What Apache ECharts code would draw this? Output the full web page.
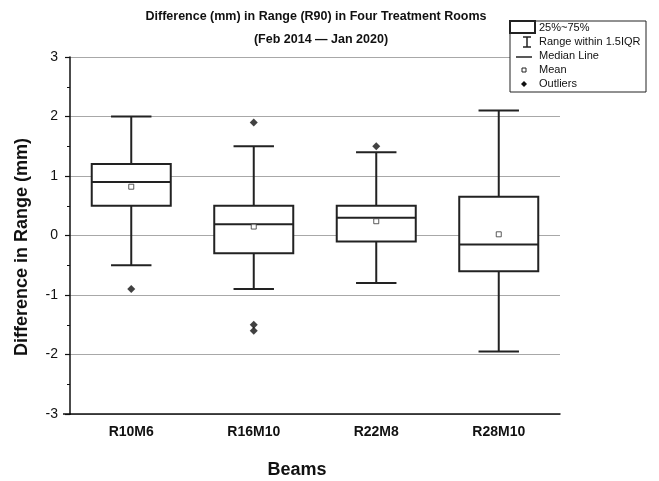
<!DOCTYPE html>
<html><head><meta charset="utf-8">
<script src="https://cdn.jsdelivr.net/npm/echarts@6/dist/echarts.min.js"></script>
<style>html,body{margin:0;padding:0;background:#fff;overflow:hidden}#c{width:659px;height:481px}</style>
</head><body><div id="c"></div>
<script>
const categories = ['R10M6', 'R16M10', 'R22M8', 'R28M10'];
// [lower whisker, Q1, median, Q3, upper whisker]
const boxStats = [
  [-0.5, 0.5, 0.9, 1.2, 2.0],
  [-0.9, -0.3, 0.19, 0.5, 1.5],
  [-0.8, -0.1, 0.3, 0.5, 1.4],
  [-1.95, -0.6, -0.15, 0.65, 2.1]
];
const means = [0.82, 0.15, 0.24, 0.02];
const outliers = [
  ['R10M6', -0.9],
  ['R16M10', 1.9],
  ['R16M10', -1.5],
  ['R16M10', -1.6],
  ['R22M8', 1.5]
];
const yTicks = [-3, -2, -1, 0, 1, 2, 3];

const chart = echarts.init(document.getElementById('c'), null, {renderer: 'canvas'});
const FONT = 'Liberation Sans, Arial, sans-serif';
const boxData = boxStats.map((s, i) => [i].concat(s));

function renderBox(params, api) {
  const i = api.value(0);
  const lo = api.coord([i, api.value(1)]);
  const q1 = api.coord([i, api.value(2)]);
  const md = api.coord([i, api.value(3)]);
  const q3 = api.coord([i, api.value(4)]);
  const hi = api.coord([i, api.value(5)]);
  const band = api.size([1, 0])[0];
  const bw = band * 0.645, cw = band * 0.33;
  const x = lo[0];
  const st = {stroke: '#222', lineWidth: 2, fill: null};
  return {
    type: 'group',
    children: [
      {type: 'line', shape: {x1: x, y1: hi[1], x2: x, y2: q3[1]}, style: st},
      {type: 'line', shape: {x1: x, y1: q1[1], x2: x, y2: lo[1]}, style: st},
      {type: 'line', shape: {x1: x - cw / 2, y1: hi[1], x2: x + cw / 2, y2: hi[1]}, style: st},
      {type: 'line', shape: {x1: x - cw / 2, y1: lo[1], x2: x + cw / 2, y2: lo[1]}, style: st},
      {type: 'rect', shape: {x: x - bw / 2, y: q3[1], width: bw, height: q1[1] - q3[1]}, style: {stroke: '#222', lineWidth: 2, fill: '#fff'}},
      {type: 'line', shape: {x1: x - bw / 2, y1: md[1], x2: x + bw / 2, y2: md[1]}, style: st}
    ]
  };
}

const option = {
  backgroundColor: '#fff',
  animation: false,
  grid: {left: 70, right: 99, top: 57, bottom: 67},
  xAxis: {
    type: 'category', data: categories,
    axisLine: {onZero: false, lineStyle: {color: '#111', width: 1.5}},
    axisTick: {alignWithLabel: true, length: 5, lineStyle: {color: '#111', width: 1.2}},
    axisLabel: {fontFamily: FONT, fontSize: 14, fontWeight: 'bold', color: '#111', margin: 11},
    splitLine: {show: false}
  },
  yAxis: {
    type: 'value', min: -3, max: 3, interval: 1,
    axisLine: {show: true, lineStyle: {color: '#111', width: 1.5}},
    axisTick: {show: true, length: 5, lineStyle: {color: '#111', width: 1.2}},
    minorTick: {show: true, splitNumber: 2, length: 3, lineStyle: {color: '#111', width: 1}},
    axisLabel: {fontFamily: FONT, fontSize: 14, color: '#111', margin: 12,
      formatter: v => yTicks.includes(v) ? String(v) : ''},
    splitLine: {show: true, lineStyle: {color: '#a8a8a8', width: 1.2}}
  },
  title: [
    {text: 'Difference (mm) in Range (R90) in Four Treatment Rooms', left: 311, top: 5, textAlign: 'center',
      textStyle: {fontFamily: FONT, fontSize: 12.5, fontWeight: 'bold', color: '#111'}},
    {text: '(Feb 2014 \u2014 Jan 2020)', left: 316, top: 28, textAlign: 'center',
      textStyle: {fontFamily: FONT, fontSize: 12.5, fontWeight: 'bold', color: '#111'}}
  ],
  graphic: [
    {type: 'line', shape: {x1: 63, y1: 414, x2: 71, y2: 414}, style: {stroke: '#111', lineWidth: 1.5}, z: 5},
    {type: 'text', x: 22, y: 247, rotation: Math.PI / 2, style: {text: 'Difference in Range (mm)', font: 'bold 18px ' + FONT, fill: '#111', align: 'center', verticalAlign: 'middle'}},
    {type: 'text', x: 297, y: 470, style: {text: 'Beams', font: 'bold 18px ' + FONT, fill: '#111', align: 'center', verticalAlign: 'middle'}},
    {type: 'rect', shape: {x: 510, y: 21, width: 136, height: 71}, style: {fill: '#fff', stroke: '#222', lineWidth: 1}, z: 10},
    {type: 'rect', shape: {x: 510, y: 21, width: 25, height: 12}, style: {fill: '#fff', stroke: '#222', lineWidth: 2}, z: 11},
    {type: 'line', shape: {x1: 527, y1: 37, x2: 527, y2: 47}, style: {stroke: '#222', lineWidth: 1.5}, z: 11},
    {type: 'line', shape: {x1: 523, y1: 37, x2: 531, y2: 37}, style: {stroke: '#222', lineWidth: 1.5}, z: 11},
    {type: 'line', shape: {x1: 523, y1: 47, x2: 531, y2: 47}, style: {stroke: '#222', lineWidth: 1.5}, z: 11},
    {type: 'line', shape: {x1: 516, y1: 57, x2: 532, y2: 57}, style: {stroke: '#222', lineWidth: 1.5}, z: 11},
    {type: 'rect', shape: {x: 522, y: 68, width: 4, height: 4}, style: {fill: '#fff', stroke: '#222', lineWidth: 1}, z: 11},
    {type: 'polygon', shape: {points: [[524, 81], [527, 84], [524, 87], [521, 84]]}, style: {fill: '#111'}, z: 11},
    {type: 'text', x: 539, y: 28, style: {text: '25%~75%', font: '11px ' + FONT, fill: '#111', verticalAlign: 'middle'}, z: 11},
    {type: 'text', x: 539, y: 42, style: {text: 'Range within 1.5IQR', font: '11px ' + FONT, fill: '#111', verticalAlign: 'middle'}, z: 11},
    {type: 'text', x: 539, y: 56, style: {text: 'Median Line', font: '11px ' + FONT, fill: '#111', verticalAlign: 'middle'}, z: 11},
    {type: 'text', x: 539, y: 70, style: {text: 'Mean', font: '11px ' + FONT, fill: '#111', verticalAlign: 'middle'}, z: 11},
    {type: 'text', x: 539, y: 84, style: {text: 'Outliers', font: '11px ' + FONT, fill: '#111', verticalAlign: 'middle'}, z: 11}
  ],
  series: [
    {type: 'custom', renderItem: renderBox, data: boxData, encode: {x: 0, y: [1, 5]}, z: 3},
    {type: 'scatter', data: categories.map((c, i) => [c, means[i]]), symbol: 'rect', symbolSize: 5,
      itemStyle: {color: '#fff', borderColor: '#333', borderWidth: 1}, z: 5},
    {type: 'scatter', data: outliers, symbol: 'diamond', symbolSize: 8,
      itemStyle: {color: '#111'}, z: 5}
  ]
};
chart.setOption(option);
</script></body></html>
